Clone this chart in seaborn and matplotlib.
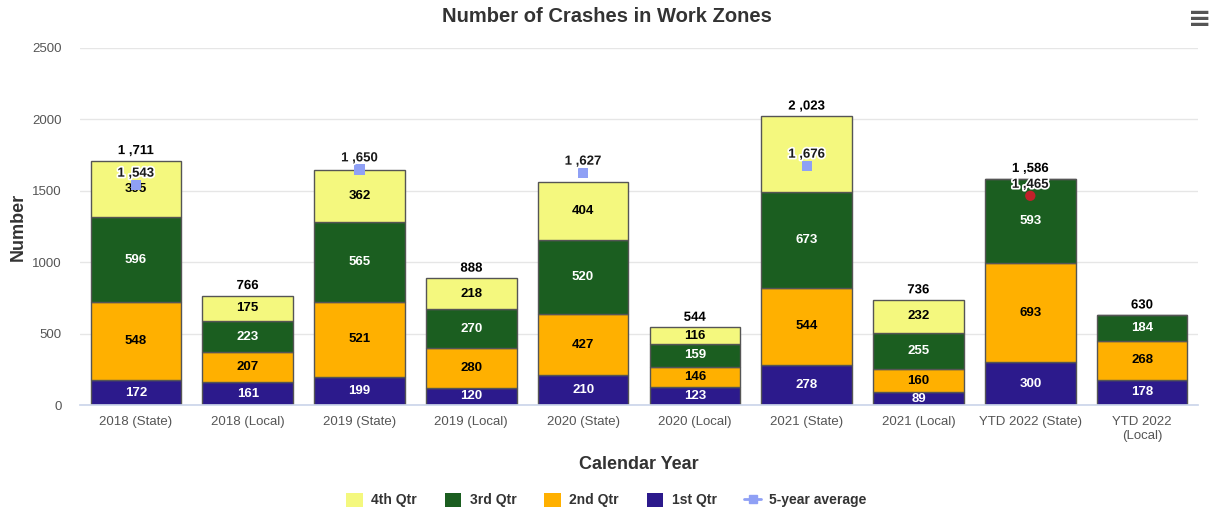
import numpy as np
import pandas as pd
import matplotlib
matplotlib.use("Agg")
import matplotlib.pyplot as plt
import seaborn as sns
from matplotlib.patches import Patch
from matplotlib.lines import Line2D
import matplotlib.patheffects as pe

categories = ["2018 (State)", "2018 (Local)", "2019 (State)", "2019 (Local)",
              "2020 (State)", "2020 (Local)", "2021 (State)", "2021 (Local)",
              "YTD 2022 (State)", "YTD 2022\n(Local)"]
q1 = [172, 161, 199, 120, 210, 123, 278, 89, 300, 178]
q2 = [548, 207, 521, 280, 427, 146, 544, 160, 693, 268]
q3 = [596, 223, 565, 270, 520, 159, 673, 255, 593, 184]
q4 = [395, 175, 362, 218, 404, 116, 528, 232, 0, 0]
totals = [1711, 766, 1650, 888, 1561, 544, 2023, 736, 1586, 630]
show_total = [True, True, False, True, False, True, True, True, True, True]
show_q4 = [True, True, True, True, True, True, False, True, False, False]
avg_cats = ["2018 (State)", "2019 (State)", "2020 (State)", "2021 (State)", "YTD 2022 (State)"]
avg_vals = [1543, 1650, 1627, 1676, 1465]

series_names = ["1st Qtr", "2nd Qtr", "3rd Qtr", "4th Qtr"]
colors = {"1st Qtr": "#2c1a8c", "2nd Qtr": "#ffb000", "3rd Qtr": "#1b5e20", "4th Qtr": "#f4f87e"}
text_colors = {"1st Qtr": "white", "2nd Qtr": "black", "3rd Qtr": "white", "4th Qtr": "black"}

sns.set_theme(style="white")
plt.rcParams['font.family'] = ['Liberation Sans', 'DejaVu Sans']

fig = plt.figure(figsize=(12.13, 5.13), dpi=100)
ax = fig.add_axes([80/1213, 1-405/513, 1118/1213, (405-48)/513])

layers = [q1, q2, q3, q4]
bottom = np.zeros(len(categories))
for name, vals in zip(series_names, layers):
    df = pd.DataFrame({"cat": categories, "val": vals})
    sns.barplot(data=df, x="cat", y="val", order=categories, color=colors[name],
                bottom=bottom, width=0.81, edgecolor="#555555", linewidth=1.0,
                saturation=1, ax=ax)
    for i, v in enumerate(vals):
        if v <= 0:
            continue
        if name == "4th Qtr" and not show_q4[i]:
            continue
        ax.text(i, bottom[i] + v / 2, f"{v}", ha="center", va="center",
                fontsize=9.5, fontweight="bold", color=text_colors[name])
    bottom = bottom + np.array(vals)

halo = [pe.withStroke(linewidth=2.5, foreground="white")]
for i, t in enumerate(totals):
    if show_total[i]:
        s = f"{t:,}".replace(",", " ,")
        ax.text(i, bottom[i] + 25, s, ha="center", va="bottom", fontsize=9.5,
                fontweight="bold", color="black", path_effects=halo)

pos = [categories.index(c) for c in avg_cats]
avg_df = pd.DataFrame({"x": pos[:-1], "y": avg_vals[:-1]})
sns.scatterplot(data=avg_df, x="x", y="y", marker="s", s=55, color="#8fa0f5",
                edgecolor="none", ax=ax, zorder=5, legend=False)
sns.scatterplot(x=[pos[-1]], y=[avg_vals[-1]], marker="o", s=55, color="#c0202a",
                edgecolor="none", ax=ax, zorder=5, legend=False)
for p, v in zip(pos, avg_vals):
    s = f"{v:,}".replace(",", " ,")
    ax.text(p, v + 35, s, ha="center", va="bottom", fontsize=9.5, fontweight="bold",
            color="#1a1a1a", path_effects=halo, zorder=6)

ax.set_xlim(-0.5, len(categories) - 0.5)
ax.set_ylim(0, 2500)
ax.set_yticks([0, 500, 1000, 1500, 2000, 2500])
ax.yaxis.grid(True, color="#e6e6e6", linewidth=1)
ax.set_axisbelow(True)
for sp in ax.spines.values():
    sp.set_visible(False)
ax.spines["bottom"].set_visible(True)
ax.spines["bottom"].set_color("#ccd6eb")
ax.tick_params(axis="both", colors="#555555", labelsize=9.5, length=0)
ax.tick_params(axis="x", pad=8)
ax.tick_params(axis="y", pad=13)
ax.set_xlabel("Calendar Year", fontsize=13, fontweight="bold", color="#333333", labelpad=10)
ax.set_ylabel("Number", fontsize=13, fontweight="bold", color="#333333", labelpad=4)

fig.text(0.5, 1 - 16/513, "Number of Crashes in Work Zones", ha="center", va="center",
         fontsize=14.5, fontweight="bold", color="#333333")
fig.text(1200/1213, 1 - 19/513, "≡", ha="center", va="center", fontsize=20,
         fontweight="bold", color="#555555", family="DejaVu Sans")

handles = [Patch(facecolor=colors["4th Qtr"], edgecolor="none", label="4th Qtr"),
           Patch(facecolor=colors["3rd Qtr"], edgecolor="none", label="3rd Qtr"),
           Patch(facecolor=colors["2nd Qtr"], edgecolor="none", label="2nd Qtr"),
           Patch(facecolor=colors["1st Qtr"], edgecolor="none", label="1st Qtr"),
           Line2D([0], [0], color="#8fa0f5", marker="s", markersize=6, linewidth=2,
                  label="5-year average")]
leg = fig.legend(handles=handles, loc="center", bbox_to_anchor=(0.5, 1 - 500/513),
                 ncol=5, frameon=False, fontsize=10, handlelength=1.2, handleheight=1.2,
                 columnspacing=2.0, handletextpad=0.6)
for t in leg.get_texts():
    t.set_fontweight("bold")
    t.set_color("#333333")

fig.savefig("out.png", dpi=100)
